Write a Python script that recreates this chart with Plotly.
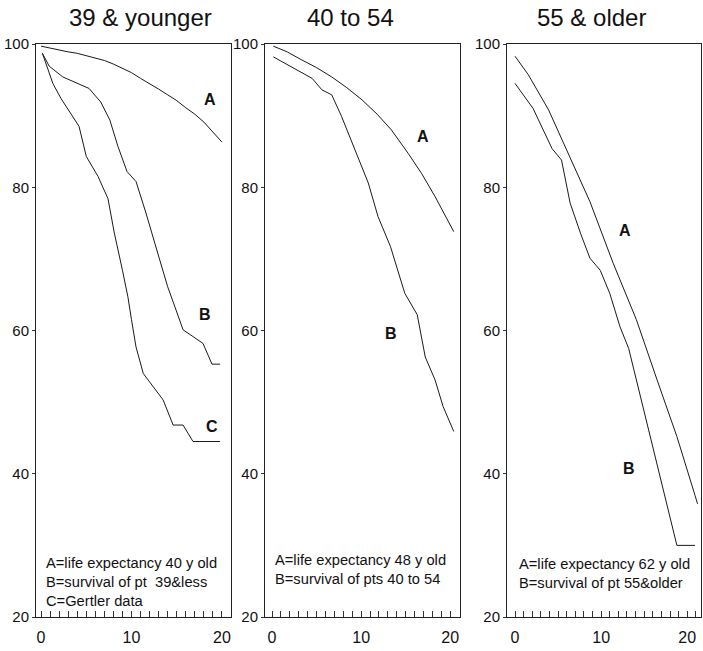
import plotly.graph_objects as go

# ---------------- data ----------------
panel_titles = ["39 & younger", "40 to 54", "55 & older"]

# Panel 1 (39 & younger)
p1_A_years = list(range(0, 21))
p1_A_surv = [99.7, 99.4, 99.2, 98.9, 98.7, 98.4, 98.0, 97.7, 97.2, 96.6, 96.0,
             95.2, 94.5, 93.7, 92.9, 92.1, 91.1, 90.2, 89.1, 87.7, 86.3]
p1_B_years = [0.15, 0.9, 2.4, 3.8, 5.3, 6.6, 7.6, 8.5, 9.5, 10.5, 11.6, 12.9,
              14.0, 14.8, 15.7, 17.9, 18.9, 19.8]
p1_B_surv = [98.7, 96.9, 95.4, 94.6, 93.8, 91.9, 89.4, 85.7, 82.2, 80.8, 76.4,
             70.8, 66.1, 63.3, 60.1, 58.2, 55.3, 55.3]
p1_C_years = [0.15, 1.3, 2.2, 3.5, 4.2, 5.0, 6.3, 7.4, 8.1, 9.0, 9.6, 10.0, 10.5,
              11.3, 12.4, 13.5, 14.6, 15.7, 16.8, 19.8]
p1_C_surv = [98.7, 94.5, 92.4, 89.8, 88.5, 84.3, 81.5, 78.4, 73.6, 68.4, 64.7,
             61.5, 57.7, 54.0, 52.2, 50.3, 46.8, 46.8, 44.5, 44.5]

# Panel 2 (40 to 54)
p2_A_years = [0.15, 1.7, 3.3, 5.0, 6.7, 8.4, 10.1, 11.8, 13.4, 15.3, 16.8, 18.3, 20.4]
p2_A_surv = [99.7, 98.9, 97.8, 96.7, 95.4, 93.9, 92.2, 90.2, 88.0, 84.7, 81.9, 78.7, 73.8]
p2_B_years = [0.15, 1.8, 4.5, 5.6, 6.7, 7.8, 9.0, 10.8, 11.9, 13.3, 14.9, 16.3,
              17.2, 18.3, 19.2, 20.4]
p2_B_surv = [98.2, 97.1, 95.2, 93.6, 92.9, 89.9, 86.1, 80.6, 75.9, 71.7, 65.2,
             62.2, 56.3, 53.1, 49.4, 45.9]

# Panel 3 (55 & older)
p3_A_years = [0.0, 1.55, 3.9, 6.2, 8.7, 11.4, 14.1, 16.5, 18.8, 20.9, 21.2]
p3_A_surv = [98.3, 95.7, 90.8, 84.7, 78.0, 69.4, 61.5, 53.1, 45.2, 37.0, 35.8]
p3_B_years = [0.0, 2.1, 4.3, 5.4, 6.4, 7.6, 8.7, 9.9, 11.0, 12.2, 13.2, 14.2,
              15.7, 17.2, 18.8, 20.9]
p3_B_surv = [94.5, 91.0, 85.4, 83.8, 77.8, 73.6, 70.1, 68.4, 65.2, 60.5, 57.5,
             52.6, 45.6, 38.2, 30.0, 30.0]

legend_texts = [
    "A=life expectancy 40 y old<br>B=survival of pt  39&less<br>C=Gertler data",
    "A=life expectancy 48 y old<br>B=survival of pts 40 to 54",
    "A=life expectancy 62 y old<br>B=survival of pt 55&older",
]
y_ticks = [20, 40, 60, 80, 100]

# ---------------- figure ----------------
FONT = "Liberation Sans, Arial, Helvetica, sans-serif"
LINE = dict(color="#1a1a1a", width=1)

fig = go.Figure()
series = [
    (1, p1_A_years, p1_A_surv), (1, p1_B_years, p1_B_surv), (1, p1_C_years, p1_C_surv),
    (2, p2_A_years, p2_A_surv), (2, p2_B_years, p2_B_surv),
    (3, p3_A_years, p3_A_surv), (3, p3_B_years, p3_B_surv),
]
for k, xs, ys in series:
    sfx = "" if k == 1 else str(k)
    fig.add_trace(go.Scatter(x=xs, y=ys, mode="lines", line=LINE,
                             xaxis="x" + sfx, yaxis="y" + sfx,
                             showlegend=False, hoverinfo="skip"))

x_domains = [[36 / 703, 231 / 703], [265 / 703, 460 / 703], [507 / 703, 701 / 703]]
x_ranges = [[-0.56, 21.0], [-0.79, 21.1], [-0.93, 21.6]]
y_domain = [1 - 617 / 651, 1 - 44 / 651]

layout = dict(
    width=703, height=651, autosize=False,
    margin=dict(l=0, r=0, t=0, b=0, pad=0),
    paper_bgcolor="white", plot_bgcolor="white",
    font=dict(family=FONT, color="#111"),
)
for i in range(3):
    sfx = "" if i == 0 else str(i + 1)
    layout["xaxis" + sfx] = dict(
        domain=x_domains[i], range=x_ranges[i], anchor="y" + sfx,
        automargin=False,
        showgrid=False, zeroline=False,
        showline=True, mirror=True, linecolor="#222", linewidth=1,
        tickmode="linear", tick0=0, dtick=10,
        ticks="inside", ticklen=6, tickcolor="#333",
        minor=dict(dtick=1, tick0=0, ticks="inside", ticklen=6, tickcolor="#333", showgrid=False),
        tickfont=dict(size=16, family=FONT, color="#111"),
        ticklabelstandoff=6,
    )
    layout["yaxis" + sfx] = dict(
        domain=y_domain, range=[20, 100], anchor="x" + sfx,
        automargin=False,
        showgrid=False, zeroline=False,
        showline=True, mirror=True, linecolor="#222", linewidth=1,
        tickmode="array", tickvals=y_ticks,
        ticks="outside", ticklen=3, tickcolor="#333",
        tickfont=dict(size=15, family=FONT, color="#111"),
        ticklabelstandoff=0,
    )
fig.update_layout(**layout)

annotations = []
# panel titles
for t, xc in zip(panel_titles, [140 / 703, 350 / 703, 591 / 703]):
    annotations.append(dict(text=t, xref="paper", yref="paper", x=xc, y=1 - 18 / 651,
                            xanchor="center", yanchor="middle", showarrow=False,
                            font=dict(size=24, family=FONT, color="#111")))
# curve letters
letters = [
    ("x", "y", "A", 18.7, 92.2), ("x", "y", "B", 18.1, 62.2), ("x", "y", "C", 18.9, 46.6),
    ("x2", "y2", "A", 17.0, 87.1), ("x2", "y2", "B", 13.4, 59.6),
    ("x3", "y3", "A", 12.8, 74.0), ("x3", "y3", "B", 13.2, 40.8),
]
for xr, yr, t, xv, yv in letters:
    annotations.append(dict(text="<b>" + t + "</b>", xref=xr, yref=yr, x=xv, y=yv,
                            xanchor="center", yanchor="middle", showarrow=False,
                            font=dict(size=16, family=FONT, color="#111")))
# in-panel legends
leg_pos = [("x", "y", 0.33, 24.9), ("x2", "y2", 0.1, 26.6), ("x3", "y3", 0.23, 26.1)]
for (xr, yr, xv, yv), t in zip(leg_pos, legend_texts):
    annotations.append(dict(text=t, xref=xr, yref=yr, x=xv, y=yv,
                            xanchor="left", yanchor="middle", align="left",
                            showarrow=False,
                            font=dict(size=14.7, family=FONT, color="#111")))
fig.update_layout(annotations=annotations)

fig.write_html(
    "out.html",
    config={"displayModeBar": False, "staticPlot": True},
    post_script="document.documentElement.style.margin='0';"
                "document.body.style.margin='0';document.body.style.padding='0';"
                "document.body.style.overflow='hidden';",
)
